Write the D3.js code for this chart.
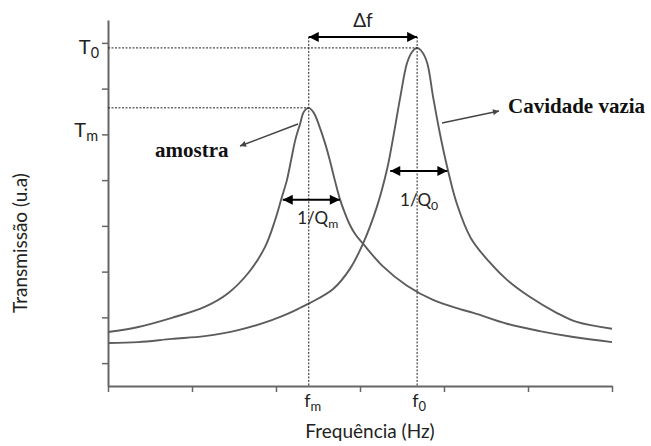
<!DOCTYPE html>
<html>
<head>
<meta charset="utf-8">
<script src="https://cdn.jsdelivr.net/npm/d3@7"></script>
<style>
body { margin: 0; background: #fff; }
svg { display: block; }
</style>
</head>
<body>
<div id="chart"></div>
<script>

// ----- Daten ---------------------------------------------------------------------------------------- //

var freqTicks = [0, 10, 20, 30, 40, 50, 60];
var transTicks = [5, 15, 25, 35, 45, 55, 65, 75];

// amostra (Probe)
var amostraFreq = [0, 3.6, 7.6, 11.5, 14.3, 16.7, 18.7, 19.9, 20.7, 21.3, 21.8, 22.3, 22.9, 23.3, 23.9, 24.5, 25.2, 25.8, 26.4, 27.0, 27.6, 28.2, 28.8, 29.5, 30.4, 32.7, 35.6, 38.7, 41.9, 43.5, 47.5, 51.4, 55.4, 60];
var amostraTrans = [11.8, 12.9, 14.9, 17.3, 20.3, 24.7, 30.4, 36.3, 41.3, 45.0, 49.4, 53.8, 57.5, 59.9, 60.8, 59.7, 56.6, 53.3, 49.4, 45.0, 40.9, 37.8, 35.2, 33.0, 31.0, 26.2, 21.9, 18.8, 16.8, 16.0, 13.6, 12.0, 10.7, 9.6];

// Cavidade vazia
var vaziaFreq = [0, 3.6, 7.6, 11.5, 15.5, 19.5, 21.9, 22.9, 24.0, 26.8, 28.8, 30.4, 32.0, 33.2, 33.9, 34.8, 35.6, 36.2, 36.8, 37.4, 38.0, 38.7, 39.5, 40.4, 41.5, 43.2, 45.5, 47.5, 50.2, 53.4, 55.8, 60];
var vaziaTrans = [9.4, 9.6, 10.3, 10.9, 12.2, 14.4, 16.2, 17.1, 18.1, 21.2, 25.6, 31.3, 39.1, 47.2, 53.8, 63.2, 70.6, 73.0, 73.9, 73.0, 70.6, 63.2, 55.3, 47.7, 40.0, 32.3, 26.9, 23.2, 19.5, 16.0, 14.0, 12.5];

// Breiten 1/Q (Frequenz von-bis, Hoehe)
var widthM = [20.8, 27.6];
var levelM = 40.7;
var width0 = [33.6, 40.4];
var level0 = 47.0;
var levelDeltaF = 76.3;


// ----- Grundgeruest ---------------------------------------------------------------------------------- //

var W = 651, H = 446;

var svg = d3.select('#chart').append('svg')
    .attr('width', W)
    .attr('height', H);

var x = d3.scaleLinear().domain([0, 60]).range([108, 612]);
var y = d3.scaleLinear().domain([0, 80]).range([386, 20]);

var defs = svg.append('defs');

defs.append('marker')
    .attr('id', 'head')
    .attr('viewBox', '0 0 10 10')
    .attr('refX', 10)
    .attr('refY', 5)
    .attr('markerWidth', 12)
    .attr('markerHeight', 10)
    .attr('markerUnits', 'userSpaceOnUse')
    .attr('orient', 'auto-start-reverse')
    .append('path')
    .attr('d', 'M0,0 L10,5 L0,10 z')
    .attr('fill', '#000');

defs.append('marker')
    .attr('id', 'headSmall')
    .attr('viewBox', '0 0 10 10')
    .attr('refX', 10)
    .attr('refY', 5)
    .attr('markerWidth', 8)
    .attr('markerHeight', 6)
    .attr('markerUnits', 'userSpaceOnUse')
    .attr('orient', 'auto')
    .append('path')
    .attr('d', 'M0,0 L10,5 L0,10 z')
    .attr('fill', '#444');


// ----- Achsen ---------------------------------------------------------------------------------------- //

svg.append('g')
    .attr('transform', 'translate(' + x(0) + ',0)')
    .call(d3.axisLeft(y).tickValues(transTicks).tickFormat('').tickSize(6).tickSizeOuter(0));

svg.append('g')
    .attr('transform', 'translate(0,' + y(0) + ')')
    .call(d3.axisBottom(x).tickValues(freqTicks).tickFormat('').tickSize(6).tickSizeOuter(0));

svg.selectAll('.domain').attr('stroke', '#666').attr('stroke-width', 2);
svg.selectAll('.tick line').attr('stroke', '#666').attr('stroke-width', 1.5);


// ----- Kurven ---------------------------------------------------------------------------------------- //

function toPoints(_f, _t) {
    var pts = [];
    for (var i = 0; i < _f.length; i++) {
        pts.push([_f[i], _t[i]]);
    }
    return pts;
}

var line = d3.line()
    .x(function (d) { return x(d[0]); })
    .y(function (d) { return y(d[1]); })
    .curve(d3.curveCatmullRom.alpha(0.5));

var amostraPts = toPoints(amostraFreq, amostraTrans);
var vaziaPts = toPoints(vaziaFreq, vaziaTrans);

svg.append('path')
    .datum(amostraPts)
    .attr('d', line)
    .attr('fill', 'none')
    .attr('stroke', '#5c5c5c')
    .attr('stroke-width', 1.9);

svg.append('path')
    .datum(vaziaPts)
    .attr('d', line)
    .attr('fill', 'none')
    .attr('stroke', '#5c5c5c')
    .attr('stroke-width', 1.9);

// Maxima suchen
var peakM = amostraPts[d3.maxIndex(amostraTrans)];
var peak0 = vaziaPts[d3.maxIndex(vaziaTrans)];


// ----- Hilfslinien (gepunktet) ---------------------------------------------------------------------- //

function dotted(_x1, _y1, _x2, _y2) {
    svg.append('line')
        .attr('x1', _x1).attr('y1', _y1)
        .attr('x2', _x2).attr('y2', _y2)
        .attr('stroke', '#222')
        .attr('stroke-width', 1)
        .attr('stroke-dasharray', '2,1.5');
}

dotted(x(0), y(peak0[1]), x(peak0[0]), y(peak0[1]));
dotted(x(0), y(peakM[1]), x(peakM[0]), y(peakM[1]));
dotted(x(peakM[0]), y(levelDeltaF), x(peakM[0]), y(0));
dotted(x(peak0[0]), y(levelDeltaF), x(peak0[0]), y(0));


// ----- Pfeile ---------------------------------------------------------------------------------------- //

function doubleArrow(_f1, _f2, _t) {
    svg.append('line')
        .attr('x1', x(_f1)).attr('y1', y(_t))
        .attr('x2', x(_f2)).attr('y2', y(_t))
        .attr('stroke', '#000')
        .attr('stroke-width', 2)
        .attr('marker-start', 'url(#head)')
        .attr('marker-end', 'url(#head)');
}

doubleArrow(peakM[0], peak0[0], levelDeltaF);
doubleArrow(widthM[0], widthM[1], levelM);
doubleArrow(width0[0], width0[1], level0);

// Zeiger zu den Beschriftungen
svg.append('line')
    .attr('x1', 298).attr('y1', 124)
    .attr('x2', 240).attr('y2', 146)
    .attr('stroke', '#444')
    .attr('stroke-width', 1.5)
    .attr('marker-end', 'url(#headSmall)');

svg.append('line')
    .attr('x1', 442).attr('y1', 123)
    .attr('x2', 499).attr('y2', 111)
    .attr('stroke', '#444')
    .attr('stroke-width', 1.5)
    .attr('marker-end', 'url(#headSmall)');


// ----- Texte ----------------------------------------------------------------------------------------- //

var sans = 'Lato, "Open Sans", sans-serif';
var serif = '"Liberation Serif", "Times New Roman", serif';

function subText(_x, _y, _main, _sub, _size, _anchor) {
    var t = svg.append('text')
        .attr('x', _x)
        .attr('y', _y)
        .attr('text-anchor', _anchor)
        .attr('font-family', sans)
        .attr('font-size', _size + 'px')
        .attr('fill', '#222');
    t.append('tspan').text(_main);
    t.append('tspan')
        .attr('font-size', (_size * 0.72) + 'px')
        .attr('dy', 4)
        .text(_sub);
    return t;
}

subText(99, 54, 'T', '0', 20, 'end');
subText(98, 137, 'T', 'm', 20, 'end');

subText(x(peakM[0]) + 4, 407, 'f', 'm', 18, 'middle');
subText(x(peak0[0]) + 2, 407, 'f', '0', 18, 'middle');

svg.append('text')
    .attr('x', (x(peakM[0]) + x(peak0[0])) / 2)
    .attr('y', 27)
    .attr('text-anchor', 'middle')
    .attr('font-family', sans)
    .attr('font-size', '19px')
    .attr('fill', '#222')
    .text('Δf');

subText(x(peakM[0]) + 9, 224, '1/Q', 'm', 17, 'middle');
subText(x(peak0[0]) + 2, 206, '1/Q', '0', 17, 'middle');

svg.append('text')
    .attr('x', 155)
    .attr('y', 157)
    .attr('font-family', serif)
    .attr('font-weight', 'bold')
    .attr('font-size', '21px')
    .attr('fill', '#111')
    .text('amostra');

svg.append('text')
    .attr('x', 508)
    .attr('y', 113)
    .attr('font-family', serif)
    .attr('font-weight', 'bold')
    .attr('font-size', '21px')
    .attr('fill', '#111')
    .text('Cavidade vazia');

svg.append('text')
    .attr('x', 370)
    .attr('y', 438)
    .attr('text-anchor', 'middle')
    .attr('font-family', sans)
    .attr('font-size', '19px')
    .attr('fill', '#222')
    .text('Frequência (Hz)');

svg.append('text')
    .attr('transform', 'translate(27,243) rotate(-90)')
    .attr('text-anchor', 'middle')
    .attr('font-family', sans)
    .attr('font-size', '19px')
    .attr('fill', '#222')
    .text('Transmissão (u.a)');

</script>
</body>
</html>
